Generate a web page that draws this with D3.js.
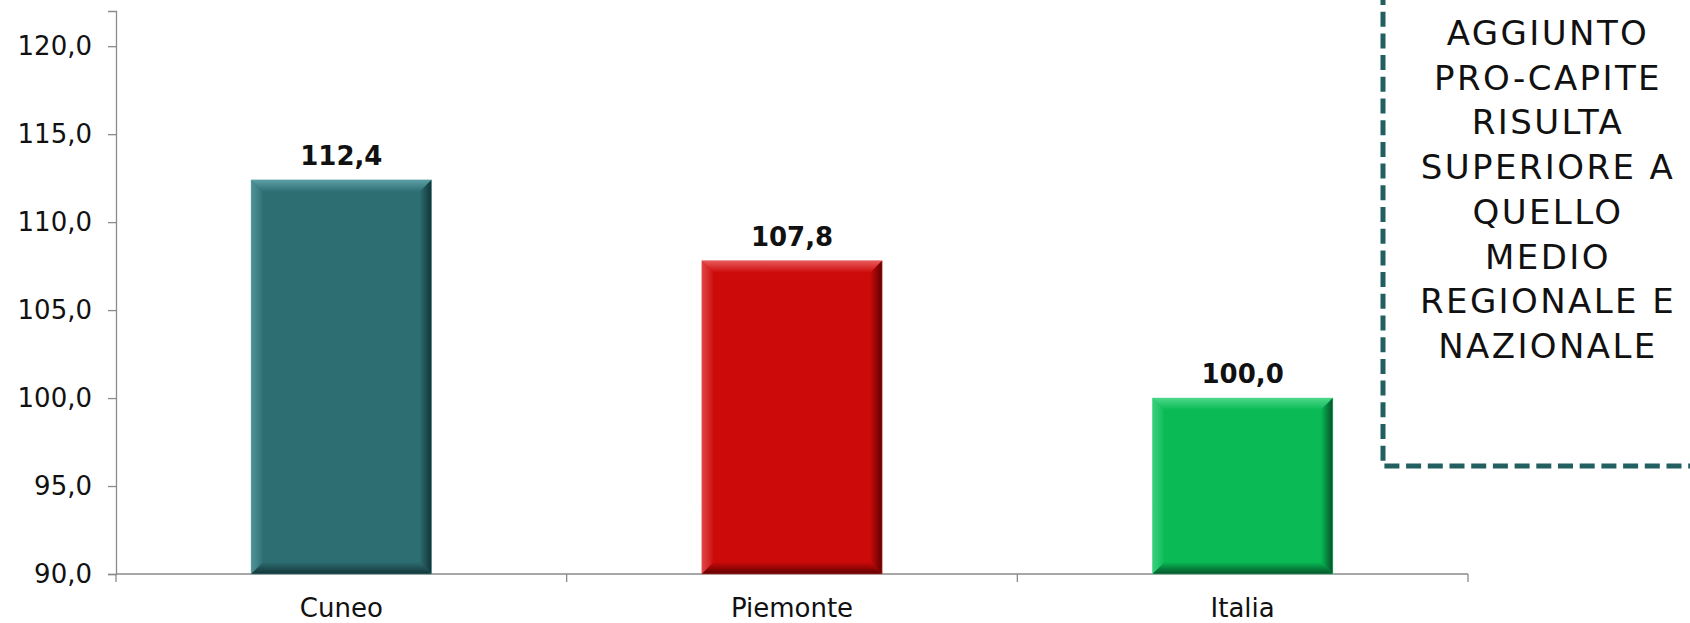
<!DOCTYPE html>
<html>
<head>
<meta charset="utf-8">
<script src="https://cdn.jsdelivr.net/npm/d3@7/dist/d3.min.js"></script>
<style>
  html, body { margin: 0; padding: 0; background: #fff; }
  svg { display: block; }
</style>
</head>
<body>
<svg id="chart" width="1690" height="623"></svg>
<script>
const categories = ["Cuneo", "Piemonte", "Italia"];
const values = [112.4, 107.8, 100.0];
const barColors = ["#2d6e73", "#cc0a0a", "#09ba55"];
const lightColors = ["#5a9fa4", "#e85a5a", "#4cd88a"];
const darkColors = ["#133436", "#5e0000", "#05522a"];
const yTicks = [90, 95, 100, 105, 110, 115, 120];
const yDomain = [90, 122];
const noteLines = ["AGGIUNTO", "PRO-CAPITE", "RISULTA", "SUPERIORE A", "QUELLO", "MEDIO", "REGIONALE E", "NAZIONALE"];

(function () {
const fmt = v => v.toFixed(1).replace(".", ",");
const svg = d3.select("#chart");
const font = "'DejaVu Sans', Verdana, sans-serif";

const mLeft = 116, mRight = 1468, mTop = 11, mBottom = 574;
const x = d3.scaleBand().domain(categories).range([mLeft, mRight]).paddingInner(0.6).paddingOuter(0.3);
const y = d3.scaleLinear().domain(yDomain).range([mBottom, mTop]);

// Y axis
const yAxis = d3.axisLeft(y).tickValues(yTicks).tickSize(8).tickPadding(16).tickFormat(fmt);
const gy = svg.append("g").attr("transform", `translate(${mLeft},0)`).call(yAxis);
gy.select(".domain").attr("stroke", "#8a8a8a").attr("stroke-width", 1.3);
gy.selectAll(".tick line").attr("stroke", "#8a8a8a").attr("stroke-width", 1.3);
gy.selectAll(".tick text").attr("font-family", font).attr("font-size", 26).attr("fill", "#111");

// X axis line with boundary ticks
svg.append("line").attr("x1", mLeft).attr("x2", mRight).attr("y1", mBottom).attr("y2", mBottom)
  .attr("stroke", "#8a8a8a").attr("stroke-width", 1.3);
const boundaries = d3.range(categories.length + 1).map(i => mLeft + i * x.step());
svg.selectAll(".xb").data(boundaries).join("line")
  .attr("x1", d => d).attr("x2", d => d).attr("y1", mBottom).attr("y2", mBottom + 8)
  .attr("stroke", "#8a8a8a").attr("stroke-width", 1.3);
svg.selectAll(".xl").data(categories).join("text")
  .attr("x", d => x(d) + x.bandwidth() / 2).attr("y", mBottom + 43)
  .attr("text-anchor", "middle").attr("font-family", font).attr("font-size", 26).attr("fill", "#111")
  .text(d => d);

// Gradients for bevels
const defs = svg.append("defs");
categories.forEach((c, i) => {
  const gt = defs.append("linearGradient").attr("id", "gtop" + i).attr("x1", 0).attr("y1", 0).attr("x2", 0).attr("y2", 1);
  gt.append("stop").attr("offset", 0).attr("stop-color", lightColors[i]);
  gt.append("stop").attr("offset", 1).attr("stop-color", barColors[i]);
  const gr = defs.append("linearGradient").attr("id", "gright" + i).attr("x1", 0).attr("y1", 0).attr("x2", 1).attr("y2", 0);
  gr.append("stop").attr("offset", 0).attr("stop-color", barColors[i]);
  gr.append("stop").attr("offset", 1).attr("stop-color", darkColors[i]);
  const gb = defs.append("linearGradient").attr("id", "gbot" + i).attr("x1", 0).attr("y1", 0).attr("x2", 0).attr("y2", 1);
  gb.append("stop").attr("offset", 0).attr("stop-color", barColors[i]);
  gb.append("stop").attr("offset", 1).attr("stop-color", darkColors[i]);
  const gl = defs.append("linearGradient").attr("id", "gleft" + i).attr("x1", 0).attr("y1", 0).attr("x2", 1).attr("y2", 0);
  gl.append("stop").attr("offset", 0).attr("stop-color", lightColors[i]).attr("stop-opacity", 0.7);
  gl.append("stop").attr("offset", 1).attr("stop-color", barColors[i]);
});

const bev = 12;
const bars = svg.selectAll(".bar").data(categories.map((c, i) => ({ c, v: values[i], i }))).join("g");
bars.each(function (d) {
  const g = d3.select(this);
  const x0 = x(d.c), x1 = x0 + x.bandwidth(), y0 = y(d.v), y1 = y(yDomain[0]);
  const poly = pts => pts.map(p => p.join(",")).join(" ");
  g.append("rect").attr("x", x0).attr("y", y0).attr("width", x1 - x0).attr("height", y1 - y0)
    .attr("fill", barColors[d.i]);
  g.append("polygon").attr("points", poly([[x0, y0], [x1, y0], [x1 - bev, y0 + bev], [x0 + bev, y0 + bev]]))
    .attr("fill", `url(#gtop${d.i})`);
  g.append("polygon").attr("points", poly([[x0, y0], [x0 + bev, y0 + bev], [x0 + bev, y1 - bev], [x0, y1]]))
    .attr("fill", `url(#gleft${d.i})`);
  g.append("polygon").attr("points", poly([[x1, y0], [x1, y1], [x1 - bev, y1 - bev], [x1 - bev, y0 + bev]]))
    .attr("fill", `url(#gright${d.i})`);
  g.append("polygon").attr("points", poly([[x0, y1], [x1, y1], [x1 - bev, y1 - bev], [x0 + bev, y1 - bev]]))
    .attr("fill", `url(#gbot${d.i})`);
  g.append("rect").attr("x", x0).attr("y", y0).attr("width", x1 - x0).attr("height", y1 - y0)
    .attr("fill", "none").attr("stroke", lightColors[d.i]).attr("stroke-opacity", 0.45).attr("stroke-width", 1);
  g.append("text").attr("x", (x0 + x1) / 2).attr("y", y0 - 15)
    .attr("text-anchor", "middle").attr("font-family", font).attr("font-weight", "bold")
    .attr("font-size", 26).attr("fill", "#111").text(fmt(d.v));
});

// Note box
svg.append("path")
  .attr("d", "M1383,-10 L1383,466 L1700,466")
  .attr("fill", "none").attr("stroke", "#235f60").attr("stroke-width", 5)
  .attr("stroke-dasharray", "15,6.7");
svg.selectAll(".note").data(noteLines).join("text")
  .attr("x", 1548).attr("y", (d, i) => 45 + i * 44.7)
  .attr("text-anchor", "middle").attr("font-family", font).attr("font-size", 34)
  .attr("letter-spacing", "2.4px").attr("fill", "#111").text(d => d);
})();
</script>
</body>
</html>
